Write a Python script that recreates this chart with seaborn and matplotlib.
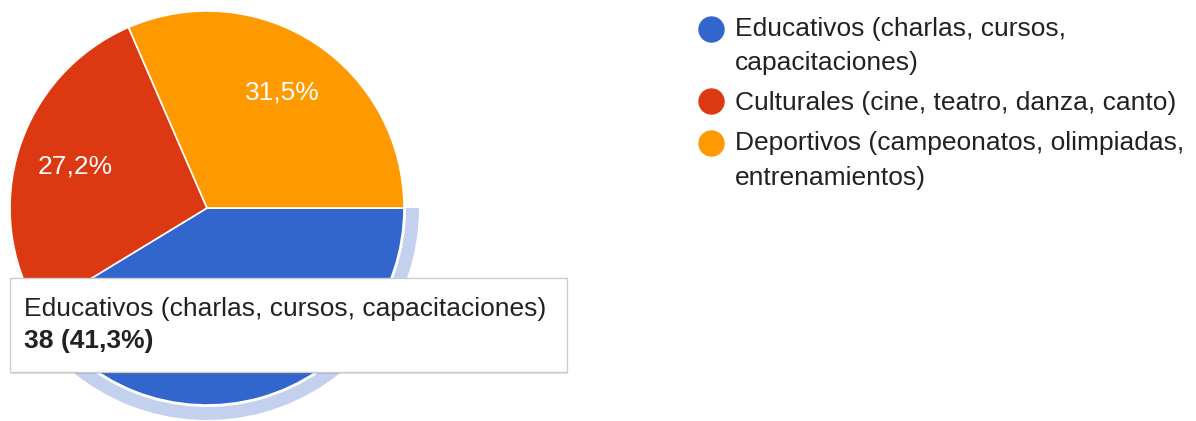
import seaborn as sns
import matplotlib.pyplot as plt
from matplotlib.lines import Line2D
from matplotlib.legend_handler import HandlerLine2D
from matplotlib.patches import Wedge, Rectangle

categories = ["Educativos (charlas, cursos,\ncapacitaciones)",
              "Culturales (cine, teatro, danza, canto)",
              "Deportivos (campeonatos, olimpiadas,\nentrenamientos)"]
tooltip_label = "Educativos (charlas, cursos, capacitaciones)"
counts = [38, 25, 29]
colors = ["#3366cc", "#dc3912", "#ff9900"]

sns.set_theme(style="white")
plt.rcParams["font.family"] = ["Liberation Sans", "DejaVu Sans"]
FS = 19.0
LINESP = 1.55


class FirstLineMarker(HandlerLine2D):
    # put the dot next to the first line of a wrapped label
    def __init__(self, shift, **kw):
        super().__init__(**kw)
        self.shift = shift

    def create_artists(self, legend, orig_handle, xdescent, ydescent, width,
                       height, fontsize, trans):
        artists = super().create_artists(legend, orig_handle, xdescent, ydescent,
                                         width, height, fontsize, trans)
        for a in artists:
            a.set_ydata([y + self.shift for y in a.get_ydata()])
        return artists


W, H = 1196, 421
fig = plt.figure(figsize=(W / 100, H / 100), dpi=100)
ax = fig.add_axes([0, 0, 1, 1])

cx, cy, r = 207, 421 - 208, 197
wedges, texts, autotexts = ax.pie(
    counts, colors=colors, startangle=0, counterclock=False,
    center=(cx, cy), radius=r, autopct=lambda p: f"{p:.1f}%".replace(".", ","),
    pctdistance=0.7, wedgeprops=dict(edgecolor="white", linewidth=1.2),
    textprops=dict(color="white", fontsize=FS))

# highlight ring around the hovered slice
share = counts[0] / sum(counts) * 360
ax.add_patch(Wedge((cx, cy), r + 15, -share, 0, width=13, facecolor="#c3d1ee",
                   edgecolor="none", zorder=0.5))

# tooltip
bx0, bx1, by0, by1 = 10, 567, 421 - 372, 421 - 278
ax.add_patch(Rectangle((bx0 + 1, by0 - 2), bx1 - bx0, by1 - by0, facecolor="#000000",
                       alpha=0.12, edgecolor="none", zorder=5))
ax.add_patch(Rectangle((bx0, by0), bx1 - bx0, by1 - by0, facecolor="white",
                       edgecolor="#cccccc", linewidth=1, zorder=6))
ax.text(24, 421 - 309, tooltip_label, fontsize=FS, color="#222222",
        va="center", ha="left", zorder=7)
ax.text(24, 421 - 341, f"{counts[0]} ({counts[0] / sum(counts) * 100:.1f}%)".replace(".", ","),
        fontsize=FS, fontweight="bold", color="#222222", va="center", ha="left", zorder=7)

handles = [Line2D([], [], marker="o", linestyle="none", markersize=18,
                  markerfacecolor=c, markeredgecolor=c) for c in colors]
half_line = FS * LINESP * 0.86 / 2
handler_map = {h: FirstLineMarker(half_line * lab.count("\n"))
               for h, lab in zip(handles, categories)}
leg = ax.legend(handles, categories, loc="upper left", handler_map=handler_map,
                bbox_to_anchor=(698 / W, 1 - 17 / H), frameon=False,
                fontsize=FS, labelcolor="#222222", handletextpad=0.4,
                labelspacing=0.6, handlelength=1.0, borderaxespad=0, borderpad=0)
for t in leg.get_texts():
    t.set_linespacing(LINESP)

ax.set_xlim(0, W)
ax.set_ylim(0, H)
ax.set_aspect("equal")
ax.axis("off")

fig.savefig("out.png", dpi=100)
